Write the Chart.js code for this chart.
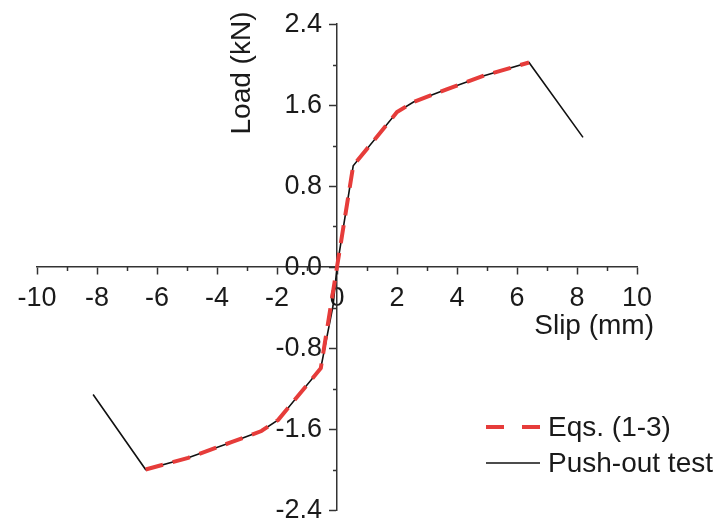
<!DOCTYPE html>
<html>
<head>
<meta charset="utf-8">
<title>Load-slip curve</title>
<script src="https://cdn.jsdelivr.net/npm/chart.js@4.4.1/dist/chart.umd.min.js"></script>
<style>
  html, body { margin: 0; padding: 0; background: #fff; }
  #wrap { width: 717px; height: 520px; }
</style>
</head>
<body>
<div id="wrap"><canvas id="slipChart" width="717" height="520"></canvas></div>
<script>
// load-slip response: Eqs. (1-3) prediction against the push-out specimen
const eqSlip   = [-6.38, -4.96, -3.52, -2.52, -1.96, -0.54, 0, 0.54, 2.0, 2.55, 3.7, 4.9, 6.4];
const eqLoad   = [-2.0, -1.885, -1.73, -1.62, -1.51, -1.0, 0, 1.0, 1.53, 1.63, 1.76, 1.89, 2.02];
const testSlip = [-8.13, -6.38, -4.96, -3.52, -2.52, -1.96, -0.54, -0.13, 0, 0.54, 2.0, 2.55, 3.7, 4.9, 6.4, 8.2];
const testLoad = [-1.26, -2.0, -1.885, -1.73, -1.62, -1.51, -1.0, -0.38, 0, 1.0, 1.53, 1.63, 1.76, 1.89, 2.02, 1.28];

const seriesNames = ['Eqs. (1-3)', 'Push-out test'];
const xTitle = 'Slip (mm)';
const yTitle = 'Load (kN)';

const FONT = '"Liberation Sans", Arial, sans-serif';
const INK = '#1a1a1a';
const AXIS = '#333';
const RED = '#e63c3a';

function toPoints(xs, ys) {
  return xs.map((v, i) => ({ x: v, y: ys[i] }));
}

// odd x / 0.4-offset y values get short unlabeled ticks
function isMajorX(v) { return Math.round(v) % 2 === 0; }
function isMajorY(v) { return Math.abs(Math.round(v * 10)) % 8 === 0; }

const extras = {
  id: 'extras',
  afterDraw(chart) {
    const { ctx, scales: { x, y } } = chart;
    const ox = x.getPixelForValue(0);
    const oy = y.getPixelForValue(0);
    ctx.save();
    ctx.strokeStyle = AXIS;
    ctx.lineWidth = 1.5;
    ctx.beginPath();
    x.ticks.forEach(t => {
      if (isMajorX(t.value)) return;
      const px = Math.round(x.getPixelForValue(t.value)) + 0.5;
      ctx.moveTo(px, oy); ctx.lineTo(px, oy + 4);
    });
    y.ticks.forEach(t => {
      if (isMajorY(t.value)) return;
      const py = Math.round(y.getPixelForValue(t.value)) + 0.5;
      ctx.moveTo(ox, py); ctx.lineTo(ox - 4, py);
    });
    ctx.stroke();

    // y tick labels sit left of the tick marks
    ctx.fillStyle = INK;
    ctx.font = '27px ' + FONT;
    ctx.textAlign = 'right';
    ctx.textBaseline = 'middle';
    y.ticks.forEach(t => {
      if (!isMajorY(t.value)) return;
      ctx.fillText(t.value.toFixed(1), ox - 15, y.getPixelForValue(t.value) + 1);
    });

    // axis titles
    ctx.font = '28px ' + FONT;
    ctx.textAlign = 'center';
    ctx.save();
    ctx.translate(ox - 95, chart.chartArea.top + 49);
    ctx.rotate(-Math.PI / 2);
    ctx.fillText(yTitle, 0, 0);
    ctx.restore();
    ctx.textAlign = 'right';
    ctx.fillText(xTitle, x.right + 17, oy + 59);

    // legend, lower right
    const lx = 486, lw = 54, ly = [427, 463];
    ctx.textAlign = 'left';
    chart.data.datasets.forEach((ds, i) => {
      ctx.save();
      ctx.strokeStyle = ds.borderColor;
      ctx.lineWidth = ds.borderWidth;
      ctx.setLineDash(i === 0 ? [18, 18] : []);
      ctx.beginPath();
      ctx.moveTo(lx, ly[i]); ctx.lineTo(lx + lw, ly[i]);
      ctx.stroke();
      ctx.restore();
      ctx.fillText(ds.label, lx + lw + 8, ly[i] + 1);
    });
    ctx.restore();
  }
};

new Chart(document.getElementById('slipChart'), {
  type: 'scatter',
  data: {
    datasets: [
      {
        label: seriesNames[0],
        data: toPoints(eqSlip, eqLoad),
        showLine: true,
        borderColor: RED,
        borderWidth: 4,
        borderDash: [18, 10],
        pointRadius: 0,
        tension: 0
      },
      {
        label: seriesNames[1],
        data: toPoints(testSlip, testLoad),
        showLine: true,
        borderColor: '#111',
        borderWidth: 1.6,
        pointRadius: 0,
        tension: 0
      }
    ]
  },
  options: {
    responsive: false,
    animation: false,
    layout: { padding: { left: 37, right: 80, top: 24, bottom: 10 } },
    plugins: {
      legend: { display: false },
      tooltip: { enabled: false }
    },
    scales: {
      x: {
        type: 'linear',
        position: { y: 0 },
        min: -10,
        max: 10,
        border: { color: AXIS, width: 1.5 },
        grid: {
          drawOnChartArea: false,
          drawTicks: true,
          tickLength: 7,
          tickWidth: 1.5,
          tickColor: c => (c.tick && isMajorX(c.tick.value)) ? AXIS : 'rgba(0,0,0,0)'
        },
        ticks: {
          stepSize: 1,
          autoSkip: false,
          maxRotation: 0,
          padding: 8,
          color: INK,
          font: { family: FONT, size: 27 },
          callback: v => isMajorX(v) ? String(Math.round(v)) : ''
        }
      },
      y: {
        type: 'linear',
        position: { x: 0 },
        min: -2.4,
        max: 2.4,
        border: { color: AXIS, width: 1.5 },
        grid: {
          drawOnChartArea: false,
          drawTicks: true,
          tickLength: 7,
          tickWidth: 1.5,
          tickColor: c => (c.tick && isMajorY(c.tick.value)) ? AXIS : 'rgba(0,0,0,0)'
        },
        ticks: {
          stepSize: 0.4,
          autoSkip: false,
          display: false
        }
      }
    }
  },
  plugins: [extras]
});
</script>
</body>
</html>
